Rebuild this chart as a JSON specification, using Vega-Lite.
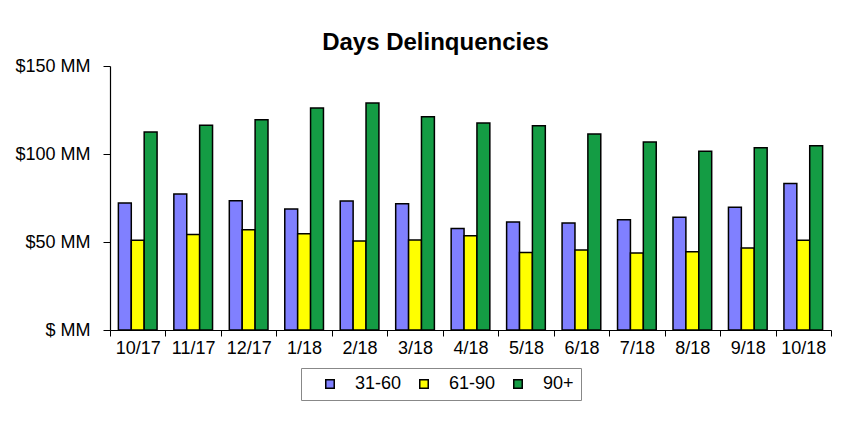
{
  "$schema": "https://vega.github.io/schema/vega-lite/v6.json",
  "autosize": {"type": "none"},
  "padding": {"left": 110, "top": 66, "right": 25, "bottom": 95},
  "width": 721,
  "height": 264,
  "background": "white",
  "title": {
    "text": "Days Delinquencies",
    "font": "Liberation Sans",
    "fontSize": 24,
    "fontWeight": "bold",
    "color": "black",
    "anchor": "middle",
    "dx": -35,
    "offset": 2
  },
  "data": {
    "values": [
      {"month": "10/17", "bucket": "31-60", "value": 72.2},
      {"month": "10/17", "bucket": "61-90", "value": 51.0},
      {"month": "10/17", "bucket": "90+", "value": 112.5},
      {"month": "11/17", "bucket": "31-60", "value": 77.3},
      {"month": "11/17", "bucket": "61-90", "value": 54.2},
      {"month": "11/17", "bucket": "90+", "value": 116.3},
      {"month": "12/17", "bucket": "31-60", "value": 73.5},
      {"month": "12/17", "bucket": "61-90", "value": 57.0},
      {"month": "12/17", "bucket": "90+", "value": 119.5},
      {"month": "1/18", "bucket": "31-60", "value": 68.8},
      {"month": "1/18", "bucket": "61-90", "value": 54.7},
      {"month": "1/18", "bucket": "90+", "value": 126.1},
      {"month": "2/18", "bucket": "31-60", "value": 73.3},
      {"month": "2/18", "bucket": "61-90", "value": 50.5},
      {"month": "2/18", "bucket": "90+", "value": 129.0},
      {"month": "3/18", "bucket": "31-60", "value": 71.7},
      {"month": "3/18", "bucket": "61-90", "value": 51.2},
      {"month": "3/18", "bucket": "90+", "value": 121.2},
      {"month": "4/18", "bucket": "31-60", "value": 57.6},
      {"month": "4/18", "bucket": "61-90", "value": 53.5},
      {"month": "4/18", "bucket": "90+", "value": 117.6},
      {"month": "5/18", "bucket": "31-60", "value": 61.3},
      {"month": "5/18", "bucket": "61-90", "value": 44.0},
      {"month": "5/18", "bucket": "90+", "value": 116.0},
      {"month": "6/18", "bucket": "31-60", "value": 60.8},
      {"month": "6/18", "bucket": "61-90", "value": 45.5},
      {"month": "6/18", "bucket": "90+", "value": 111.3},
      {"month": "7/18", "bucket": "31-60", "value": 62.7},
      {"month": "7/18", "bucket": "61-90", "value": 43.8},
      {"month": "7/18", "bucket": "90+", "value": 106.8},
      {"month": "8/18", "bucket": "31-60", "value": 64.0},
      {"month": "8/18", "bucket": "61-90", "value": 44.5},
      {"month": "8/18", "bucket": "90+", "value": 101.5},
      {"month": "9/18", "bucket": "31-60", "value": 69.7},
      {"month": "9/18", "bucket": "61-90", "value": 46.6},
      {"month": "9/18", "bucket": "90+", "value": 103.6},
      {"month": "10/18", "bucket": "31-60", "value": 83.3},
      {"month": "10/18", "bucket": "61-90", "value": 51.0},
      {"month": "10/18", "bucket": "90+", "value": 104.7}
    ]
  },
  "mark": {"type": "bar", "stroke": "black", "strokeWidth": 1.5},
  "encoding": {
    "x": {
      "field": "month",
      "type": "nominal",
      "sort": null,
      "scale": {"paddingInner": 0, "paddingOuter": 0},
      "axis": {
        "title": null,
        "labelAngle": 0,
        "labelFont": "Liberation Sans",
        "labelFontSize": 18,
        "labelColor": "black",
        "labelPadding": 3,
        "tickBand": "extent",
        "tickColor": "black",
        "tickSize": 6,
        "domainColor": "black",
        "domainWidth": 1.2
      }
    },
    "xOffset": {
      "field": "bucket",
      "type": "nominal",
      "sort": ["31-60", "61-90", "90+"],
      "scale": {"paddingInner": 0, "paddingOuter": 0.65}
    },
    "y": {
      "field": "value",
      "type": "quantitative",
      "scale": {"domain": [0, 150], "nice": false},
      "axis": {
        "title": null,
        "values": [0, 50, 100, 150],
        "grid": false,
        "labelExpr": "datum.value == 0 ? '$ MM' : '$' + datum.value + ' MM'",
        "labelFont": "Liberation Sans",
        "labelFontSize": 18,
        "labelColor": "black",
        "labelPadding": 13,
        "tickColor": "black",
        "tickSize": 7,
        "domainColor": "black",
        "domainWidth": 1.2
      }
    },
    "color": {
      "field": "bucket",
      "type": "nominal",
      "sort": ["31-60", "61-90", "90+"],
      "scale": {"domain": ["31-60", "61-90", "90+"], "range": ["#8080FF", "#FFFF00", "#149C44"]},
      "legend": {
        "title": null,
        "orient": "none",
        "legendX": 191,
        "legendY": 302,
        "direction": "horizontal",
        "symbolType": "square",
        "symbolSize": 72,
        "symbolStrokeColor": "black",
        "symbolStrokeWidth": 1.5,
        "symbolOpacity": 1,
        "symbolOffset": 13,
        "labelFont": "Liberation Sans",
        "labelFontSize": 18,
        "labelColor": "black",
        "labelOffset": 16,
        "columnPadding": -3,
        "padding": 7,
        "strokeColor": "#888888",
        "fillColor": "white"
      }
    }
  },
  "config": {"view": {"stroke": null}}
}
